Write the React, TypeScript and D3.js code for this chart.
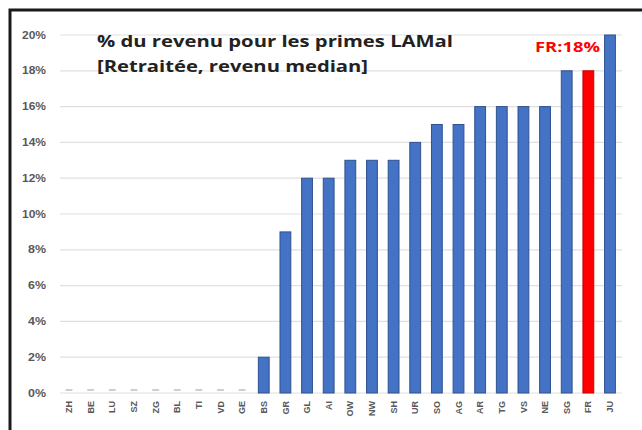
import React, { useEffect } from "react";
import * as d3 from "d3";

const cantons = ["ZH","BE","LU","SZ","ZG","BL","TI","VD","GE","BS","GR","GL","AI","OW","NW","SH","UR","SO","AG","AR","TG","VS","NE","SG","FR","JU"];
const values = [0,0,0,0,0,0,0,0,0,2,9,12,12,13,13,13,14,15,15,16,16,16,16,18,18,20];
const yTicks = [0,2,4,6,8,10,12,14,16,18,20];
const highlight = "FR";
const titleLines = ["% du revenu pour les primes LAMal", "[Retraitée, revenu median]"];
const callout = "FR:18%";

export default function App() {
  useEffect(() => {
    document.body.style.margin = "0";
    document.body.style.overflow = "hidden";
    document.documentElement.style.overflow = "hidden";
  }, []);
  const W = 642, H = 430;
  const x = d3.scaleBand<string>().domain(cantons).range([58.2, 620.8]).paddingInner(0.5).paddingOuter(0.25);
  const y = d3.scaleLinear().domain([0, 20]).range([393, 35]);
  const bw = x.bandwidth();
  return (
    <svg width={W} height={H} style={{ position: "fixed", left: 0, top: 0, display: "block", background: "#fff" }}>
      <rect x={0} y={0} width={W} height={H} fill="#fff" />
      {yTicks.map(t => (
        <g key={t}>
          <line x1={60} x2={622} y1={y(t)} y2={y(t)} stroke="#e0e0e0" strokeWidth={1.2} />
          <text x={46} y={y(t)} dy="0.35em" textAnchor="end" fontFamily="Liberation Sans, Arial, sans-serif" fontWeight="bold" fontSize={10} fill="#595959" textLength={t >= 10 ? 24 : 18} lengthAdjust="spacingAndGlyphs">{t}%</text>
        </g>
      ))}
      {cantons.map((c, i) => {
        const v = values[i];
        const x0 = x(c)!;
        const isH = c === highlight;
        if (v === 0) {
          return <line key={c} x1={x0 + 2} x2={x0 + bw - 2} y1={y(0) - 3} y2={y(0) - 3} stroke="#a9aebb" strokeWidth={1.2} />;
        }
        return (
          <rect key={c} x={x0} y={y(v)} width={bw} height={y(0) - y(v)}
            fill={isH ? "#FF0000" : "#4472C4"} stroke={isH ? "#C00000" : "#2F528F"} strokeWidth={1} />
        );
      })}
      {cantons.map(c => {
        const cx = x(c)! + bw / 2;
        return (
          <text key={c} transform={`translate(${cx},401) rotate(-90)`} textAnchor="end" dy="0.35em"
            fontFamily="Liberation Sans, Arial, sans-serif" fontWeight="bold" fontSize={9} fill="#595959">{c}</text>
        );
      })}
      <text x={97} y={47} fontFamily="Open Sans, sans-serif" fontWeight="bold" fontSize={15.5} fill="#222" textLength={356} lengthAdjust="spacingAndGlyphs">{titleLines[0]}</text>
      <text x={97} y={72} fontFamily="Open Sans, sans-serif" fontWeight="bold" fontSize={15.5} fill="#222" textLength={271} lengthAdjust="spacingAndGlyphs">{titleLines[1]}</text>
      <text x={535} y={52} fontFamily="Open Sans, sans-serif" fontWeight="bold" fontSize={14} fill="#FF0000" textLength={65} lengthAdjust="spacingAndGlyphs">{callout}</text>
      <path d={`M10,${H} L10,10 L${W},10`} fill="none" stroke="#1a1a1a" strokeWidth={3} />
    </svg>
  );
}
